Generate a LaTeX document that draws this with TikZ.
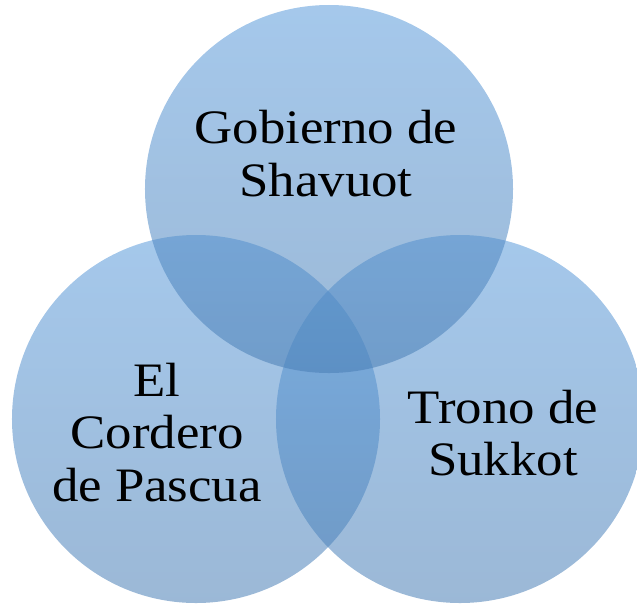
\documentclass[tikz,border=0pt]{standalone}
\usepackage{fontspec}
\setmainfont[FakeStretch=1.10]{Liberation Serif}
\usepackage{tikz}
\usetikzlibrary{positioning}

\definecolor{vennTop}{RGB}{91,155,219}
\definecolor{vennBot}{RGB}{73,126,181}

\tikzset{
  venn/.style={circle, inner sep=0pt, minimum size=11.04cm,
    top color=vennTop, bottom color=vennBot, fill opacity=0.55, draw=none},
  vlabel/.style={align=center, inner sep=0pt, text opacity=1,
    font=\fontsize{41}{45}\selectfont}
}

\begin{document}
\begin{tikzpicture}[x=0.03cm, y=-0.03cm]
\clip (0,0) rectangle (637,604);

\node at (196,419) (pascua) [venn] {};
\node at (460,419) (sukkot) [venn] {};
\node at (329,189) (shavuot) [venn] {};

\node at (326,153.5) (shavuotText) [vlabel] {Gobierno de\\Shavuot};
\node at (157,432.5) (pascuaText) [vlabel] {El\\Cordero\\de Pascua};
\node at (503,433) (sukkotText) [vlabel] {Trono de\\Sukkot};
\end{tikzpicture}
\end{document}
